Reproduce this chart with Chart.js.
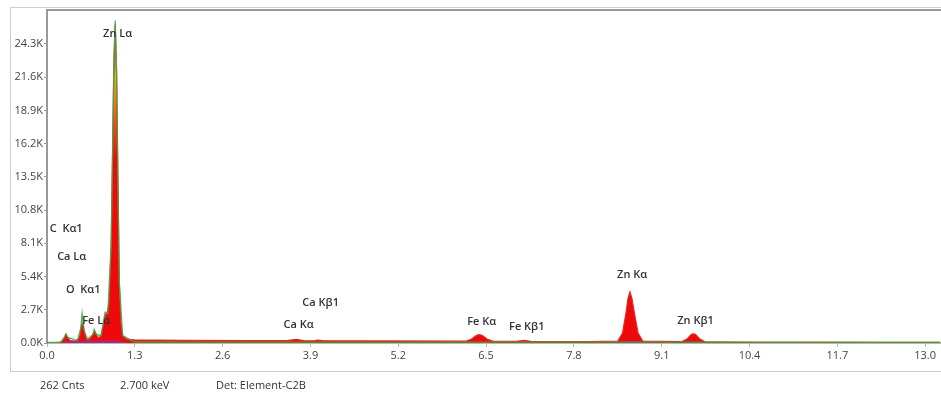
<!DOCTYPE html>
<html>
<head>
<meta charset="utf-8">
<script src="https://cdn.jsdelivr.net/npm/chart.js@4/dist/chart.umd.min.js"></script>
<style>
html,body{margin:0;padding:0;background:#fff;width:941px;height:394px;overflow:hidden;font-family:"Open Sans",sans-serif}
#frame{position:absolute;left:10px;top:7px;width:960px;height:365px;border:1px solid #cdcdcd;box-sizing:border-box}
#wrap{position:absolute;left:0;top:0;width:941px;height:394px}
.foot{position:absolute;top:377px;font-size:11px;line-height:15px;color:#333;white-space:nowrap}
</style>
</head>
<body>
<div id="frame"></div>
<div id="wrap"><canvas id="c" width="941" height="394"></canvas></div>
<div class="foot" style="left:40px">262 Cnts</div>
<div class="foot" style="left:120px">2.700 keV</div>
<div class="foot" style="left:216px">Det: Element-C2B</div>
<script>
// X tick labels (keV) and Y tick labels (thousand counts)
const xTickValues = [0, 1.3, 2.6, 3.9, 5.2, 6.5, 7.8, 9.1, 10.4, 11.7, 13.0];
const yTickValues = [0, 2.7, 5.4, 8.1, 10.8, 13.5, 16.2, 18.9, 21.6, 24.3];

// Measured spectrum (red fill): energy in keV, counts in thousands
const spectrumEnergy = [0.00,0.15,0.22,0.26,0.28,0.30,0.34,0.42,0.48,0.51,0.53,0.55,0.58,0.63,0.68,0.70,0.72,0.76,0.80,0.83,0.86,0.89,0.92,0.95,0.97,0.99,1.01,1.03,1.05,1.07,1.09,1.12,1.18,1.30,2.00,3.00,3.55,3.69,3.80,3.95,4.01,4.10,5.00,6.20,6.28,6.36,6.40,6.44,6.52,6.60,6.95,7.06,7.16,8.00,8.45,8.52,8.57,8.60,8.63,8.66,8.70,8.75,8.82,9.40,9.48,9.54,9.57,9.60,9.66,9.74,10.5,11.5,12.5,13.22];
const spectrumCounts = [0.00,0.02,0.10,0.45,0.70,0.50,0.20,0.15,0.40,1.40,1.60,1.00,0.35,0.30,0.70,0.95,0.80,0.40,0.60,1.40,2.20,2.50,3.20,8.00,15.0,22.5,25.9,22.0,13.0,5.00,1.80,0.60,0.30,0.25,0.22,0.20,0.19,0.30,0.19,0.18,0.24,0.18,0.17,0.15,0.30,0.62,0.68,0.62,0.30,0.15,0.14,0.22,0.14,0.12,0.15,0.80,2.40,3.60,4.15,3.60,2.30,0.80,0.15,0.11,0.35,0.70,0.75,0.70,0.35,0.10,0.06,0.05,0.04,0.04];

// Fitted outline (green line)
const fitEnergy = [0.00,0.20,0.26,0.28,0.31,0.45,0.50,0.52,0.55,0.60,0.68,0.70,0.73,0.80,0.86,0.90,0.95,0.99,1.01,1.03,1.07,1.12,1.30,3.00,6.00,8.00,9.00,10.0,11.0,12.0,13.22];
const fitCounts = [0.05,0.05,0.50,0.75,0.45,0.20,1.20,2.40,1.00,0.30,0.70,1.10,0.70,0.60,2.50,2.40,8.00,23.0,26.2,22.0,5.00,0.60,0.08,0.07,0.07,0.07,0.07,0.07,0.07,0.07,0.07];

// Background band (purple)
const bgEnergy = [0.22,0.26,0.60,1.00,1.15,1.20,8.45,8.50,8.78,8.82,9.45,9.50,9.68,9.72];
const bgCounts = [0.00,0.15,0.20,0.20,0.12,0.00,0.00,0.15,0.15,0.00,0.00,0.12,0.12,0.00];

// Peak labels: text, energy (keV) and height (K) of label's left-middle anchor
const peakLabels = ["Zn Lα","C  Kα1","Ca Lα","O  Kα1","Fe Lα","Ca Kβ1","Ca Kα","Fe Kα","Fe Kβ1","Zn Kα","Zn Kβ1"];
const peakLabelEnergy = [0.83,0.04,0.15,0.28,0.52,3.78,3.50,6.22,6.84,8.44,9.33];
const peakLabelHeight = [25.1,9.27,6.99,4.31,1.79,3.25,1.46,1.71,1.30,5.53,1.79];

const toPts = (xs, ys) => xs.map((x, i) => ({x: x, y: ys[i]}));

const labelPlugin = {
  id: 'peakLabels',
  afterDatasetsDraw(chart) {
    const c = chart.ctx, xs = chart.scales.x, ys = chart.scales.y, a = chart.chartArea;
    c.save();
    c.strokeStyle = '#9a9a9a';
    c.lineWidth = 2;
    c.beginPath();
    c.moveTo(a.left, a.top);
    c.lineTo(a.right + 5, a.top);
    c.stroke();
    c.font = '600 11px "Open Sans"';
    c.fillStyle = '#333';
    c.textAlign = 'left';
    c.textBaseline = 'middle';
    peakLabels.forEach((t, i) => {
      c.fillText(t, xs.getPixelForValue(peakLabelEnergy[i]), ys.getPixelForValue(peakLabelHeight[i]));
    });
    c.restore();
  }
};

function redFill(ctx) {
  const chart = ctx.chart;
  if (!chart.chartArea) return 'rgb(235,10,10)';
  const y = chart.scales.y;
  const g = chart.ctx.createLinearGradient(0, y.getPixelForValue(26), 0, y.getPixelForValue(15));
  g.addColorStop(0, 'rgb(70,160,50)');
  g.addColorStop(0.4, 'rgb(205,185,40)');
  g.addColorStop(0.7, 'rgb(240,90,20)');
  g.addColorStop(1, 'rgb(238,10,10)');
  return g;
}

new Chart(document.getElementById('c'), {
  type: 'line',
  data: {
    datasets: [
      {label: 'Fit', data: toPts(fitEnergy, fitCounts), order: 0, borderColor: 'rgba(70,165,70,0.9)', borderWidth: 1.3, fill: false, pointRadius: 0, tension: 0},
      {label: 'Background', data: toPts(bgEnergy, bgCounts), order: 1, borderWidth: 0, borderColor: 'rgba(0,0,0,0)', backgroundColor: 'rgba(165,40,140,0.9)', fill: 'origin', pointRadius: 0, tension: 0},
      {label: 'Spectrum', data: toPts(spectrumEnergy, spectrumCounts), order: 2, borderColor: 'rgb(232,40,30)', borderWidth: 1.2, backgroundColor: redFill, fill: 'origin', pointRadius: 0, tension: 0}
    ]
  },
  options: {
    responsive: false,
    animation: false,
    devicePixelRatio: 1,
    layout: {padding: {left: 0, top: 10, right: 1, bottom: 21}},
    plugins: {legend: {display: false}, tooltip: {enabled: false}},
    scales: {
      x: {
        type: 'linear', min: 0, max: 13.22,
        afterBuildTicks: s => { s.ticks = xTickValues.map(v => ({value: v})); },
        afterFit: s => { s.height = 30; },
        ticks: {callback: v => Number(v).toFixed(1), font: {family: '"Open Sans"', size: 11}, color: '#444', padding: 2, maxRotation: 0, autoSkip: false},
        grid: {drawOnChartArea: false, drawTicks: true, tickLength: 4, color: '#bbb'},
        border: {display: true, color: '#a8c4a8', width: 2}
      },
      y: {
        type: 'linear', min: 0, max: 27.06,
        afterBuildTicks: s => { s.ticks = yTickValues.map(v => ({value: v})); },
        afterFit: s => { s.width = 47; },
        ticks: {callback: v => Number(v).toFixed(1) + 'K', font: {family: '"Open Sans"', size: 11}, color: '#444', padding: 1},
        grid: {drawOnChartArea: false, drawTicks: true, tickLength: 3, color: '#999'},
        border: {display: true, color: '#9a9a9a', width: 2}
      }
    }
  },
  plugins: [labelPlugin]
});
</script>
</body>
</html>
